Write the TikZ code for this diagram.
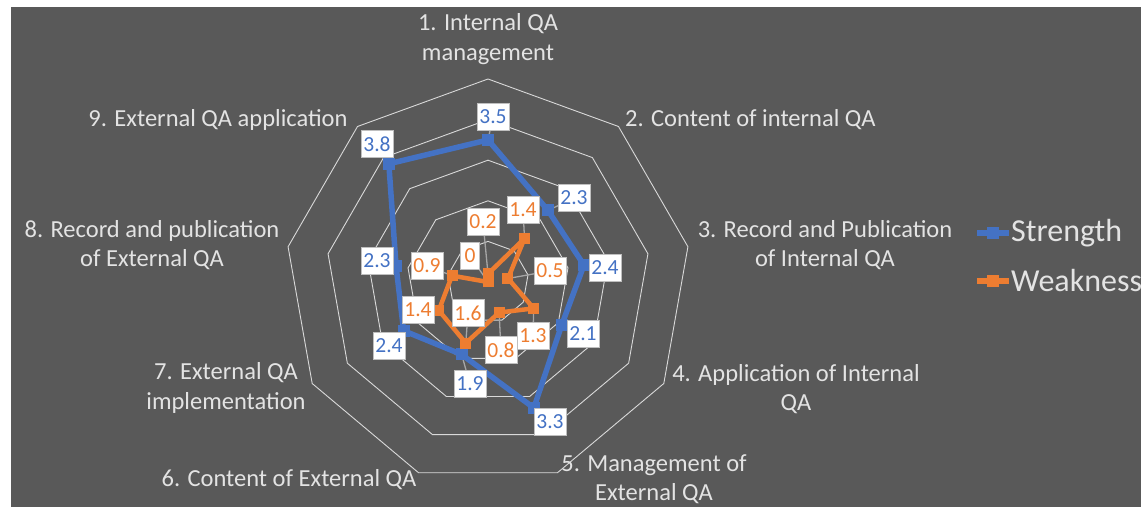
\documentclass[tikz,border=0pt]{standalone}
\usepackage{fontspec}
\setmainfont{Carlito}
\definecolor{bg}{HTML}{595959}
\definecolor{sblue}{HTML}{4472C4}
\definecolor{sorange}{HTML}{ED7D31}
\definecolor{ringc}{HTML}{D9D9D9}
\definecolor{txt}{HTML}{E3E3E3}
\definecolor{leadc}{HTML}{A6A6A6}
\definecolor{boxborder}{HTML}{BFBFBF}
\begin{document}
\begin{tikzpicture}[x=1pt,y=1pt,
 ring/.style={draw=ringc, line width=0.9pt},
 cat/.style={text=txt, font=\fontsize{24.5}{29.5}\selectfont, align=center, inner sep=0pt},
 legtext/.style={text=txt, font=\fontsize{32}{36}\selectfont, inner sep=0pt, anchor=west},
 val/.style={draw=boxborder, fill=white, line width=0.6pt, font=\fontsize{21.5}{23}\selectfont, minimum width=32pt, minimum height=27pt, inner sep=1pt},
 bval/.style={val, text=sblue},
 oval/.style={val, text=sorange},
 leader/.style={draw=leadc, line width=1.3pt},
 bline/.style={draw=sblue, line width=5.5pt, line join=round},
 oline/.style={draw=sorange, line width=4.5pt, line join=round},
 bmark/.style={fill=sblue, minimum size=12pt, inner sep=0pt, rectangle},
 omark/.style={fill=sorange, minimum size=11pt, inner sep=0pt, rectangle},
]
\useasboundingbox (0,0) rectangle (1141,507);
\fill[white] (0,0) rectangle (1141,507);
\fill[bg] (11,0) rectangle (1141,500);
\coordinate (C) at (488,225);
\def\u{40.6}
\begin{scope}[shift={(C)}]
 \foreach \i in {1,...,5}
  \draw[ring] (90:{\i*\u}) -- (50:{\i*\u}) -- (10:{\i*\u}) -- (-30:{\i*\u}) -- (-70:{\i*\u}) -- (-110:{\i*\u}) -- (-150:{\i*\u}) -- (170:{\i*\u}) -- (130:{\i*\u}) -- cycle;
 \foreach \v [count=\k] in {3.5,2.3,2.4,2.1,3.3,1.9,2.4,2.3,3.8}
  \coordinate (s\k) at ({90-40*(\k-1)}:{\v*\u});
 \foreach \v [count=\k] in {0.2,1.4,0.5,1.3,0.8,1.6,1.4,0.9,0}
  \coordinate (w\k) at ({90-40*(\k-1)}:{\v*\u+0.001});
\end{scope}

% category labels
\node[cat] (c1) at (488,468) {1. Internal QA\\management};
\node[cat, anchor=west] (c2) at (625,387) {2. Content of internal QA};
\node[cat] (c3) at (825,262) {3. Record and Publication\\of Internal QA};
\node[cat] (c4) at (796,118) {4. Application of Internal\\QA};
\node[cat] (c5) at (654,28) {5. Management of\\External QA};
\node[cat] (c6) at (289,27) {6. Content of External QA};
\node[cat] (c7) at (226,119) {7. External QA\\implementation};
\node[cat] (c8) at (152,262) {8. Record and publication\\of External QA};
\node[cat] (c9) at (218,387) {9. External QA application};

% label positions
\coordinate (ps1) at (493,390);
\coordinate (ps2) at (574,309);
\coordinate (ps3) at (605,239);
\coordinate (ps4) at (583,173);
\coordinate (ps5) at (550,85);
\coordinate (ps6) at (470,123);
\coordinate (ps7) at (389,161);
\coordinate (ps8) at (377,246);
\coordinate (ps9) at (377,363);
\coordinate (pw1) at (483,285);
\coordinate (pw2) at (523,297);
\coordinate (pw3) at (550,236);
\coordinate (pw4) at (533,171);
\coordinate (pw5) at (501,157);
\coordinate (pw6) at (468,194);
\coordinate (pw7) at (418,197);
\coordinate (pw8) at (427,241);
\coordinate (pw9) at (470,251);

% leader lines
\foreach \k in {1,...,9}{
 \draw[leader] (s\k) -- (ps\k);
 \draw[leader] (w\k) -- (pw\k);
}

% series
\draw[bline] (s1) -- (s2) -- (s3) -- (s4) -- (s5) -- (s6) -- (s7) -- (s8) -- (s9) -- cycle;
\draw[oline] (w1) -- (w2) -- (w3) -- (w4) -- (w5) -- (w6) -- (w7) -- (w8) -- (w9) -- cycle;
\foreach \k in {1,...,9}{
 \node[bmark] (ms\k) at (s\k) {};
 \node[omark] (mw\k) at (w\k) {};
}

% value labels
\foreach \k/\t in {1/3.5,2/2.3,3/2.4,4/2.1,5/3.3,6/1.9,7/2.4,8/2.3,9/3.8}
 \node[bval] (ls\k) at (ps\k) {\t};
\foreach \k/\t in {1/0.2,2/1.4,3/0.5,4/1.3,5/0.8,6/1.6,7/1.4,8/0.9}
 \node[oval] (lw\k) at (pw\k) {\t};
\node[oval, minimum width=19pt] (lw9) at (pw9) {0};

% legend
\coordinate (lbA) at (977,274);
\coordinate (lbB) at (1009,274);
\draw[bline, line width=6pt] (lbA) -- (lbB);
\node[bmark] (lbm) at (993,274) {};
\node[legtext] (legS) at (1011,274) {Strength};
\coordinate (loA) at (977,226);
\coordinate (loB) at (1009,226);
\draw[oline, line width=6pt] (loA) -- (loB);
\node[omark, minimum size=12pt] (lom) at (993,226) {};
\node[legtext] (legW) at (1011,226) {Weakness};
\end{tikzpicture}
\end{document}
